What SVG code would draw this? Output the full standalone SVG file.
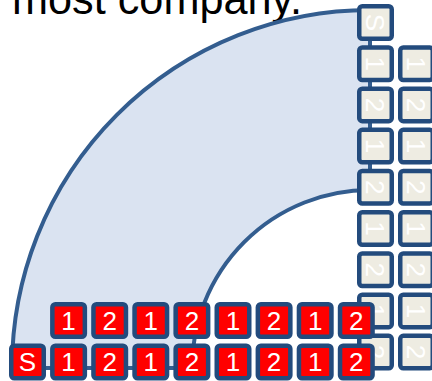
<svg xmlns="http://www.w3.org/2000/svg" width="432" height="381" viewBox="0 0 432 381">
<style>
.r{fill:#FF0000;stroke:#234B7D;stroke-width:4.5}
.b{fill:#EEECE2;stroke:#234B7D;stroke-width:4.5}
.t{font-family:"Liberation Sans",Arial,sans-serif;font-size:26px;fill:#FFFFFF;text-anchor:middle}
.h{font-family:"Liberation Sans",Arial,sans-serif;font-size:44px;fill:#000000}
</style>
<rect width="432" height="381" fill="#FFFFFF"/>
<text class="h" x="12" y="14" textLength="290" lengthAdjust="spacingAndGlyphs">most company.</text>
<g id="connectors">
<path id="arc" d="M 370 10 A 358 358 0 0 0 12 368 L 192 368 A 178 178 0 0 1 370 190 Z" fill="#DAE3F1" stroke="#335D8F" stroke-width="4" stroke-linejoin="round"/>
</g>
<g id="col2">
<g id="c2-1"><rect class="b" x="400.25" y="47.45" width="32.5" height="32.5" rx="3"/><text class="t" transform="rotate(90 416.5 63.7)" x="416.5" y="73">1</text></g>
<g id="c2-2"><rect class="b" x="400.25" y="88.65" width="32.5" height="32.5" rx="3"/><text class="t" transform="rotate(90 416.5 104.9)" x="416.5" y="114.2">2</text></g>
<g id="c2-3"><rect class="b" x="400.25" y="129.85" width="32.5" height="32.5" rx="3"/><text class="t" transform="rotate(90 416.5 146.1)" x="416.5" y="155.4">1</text></g>
<g id="c2-4"><rect class="b" x="400.25" y="171.05" width="32.5" height="32.5" rx="3"/><text class="t" transform="rotate(90 416.5 187.3)" x="416.5" y="196.6">2</text></g>
<g id="c2-5"><rect class="b" x="400.25" y="212.25" width="32.5" height="32.5" rx="3"/><text class="t" transform="rotate(90 416.5 228.5)" x="416.5" y="237.8">1</text></g>
<g id="c2-6"><rect class="b" x="400.25" y="253.45" width="32.5" height="32.5" rx="3"/><text class="t" transform="rotate(90 416.5 269.7)" x="416.5" y="279">2</text></g>
<g id="c2-7"><rect class="b" x="400.25" y="294.65" width="32.5" height="32.5" rx="3"/><text class="t" transform="rotate(90 416.5 310.9)" x="416.5" y="320.2">1</text></g>
<g id="c2-8"><rect class="b" x="400.25" y="335.85" width="32.5" height="32.5" rx="3"/><text class="t" transform="rotate(90 416.5 352.1)" x="416.5" y="361.4">2</text></g>
</g>
<g id="col1">
<g id="c1-0"><rect class="b" x="359.25" y="6.25" width="32.5" height="32.5" rx="3"/><text class="t" transform="rotate(90 375.5 22.5)" x="375.5" y="31.8">S</text></g>
<g id="c1-1"><rect class="b" x="359.25" y="47.45" width="32.5" height="32.5" rx="3"/><text class="t" transform="rotate(90 375.5 63.7)" x="375.5" y="73">1</text></g>
<g id="c1-2"><rect class="b" x="359.25" y="88.65" width="32.5" height="32.5" rx="3"/><text class="t" transform="rotate(90 375.5 104.9)" x="375.5" y="114.2">2</text></g>
<g id="c1-3"><rect class="b" x="359.25" y="129.85" width="32.5" height="32.5" rx="3"/><text class="t" transform="rotate(90 375.5 146.1)" x="375.5" y="155.4">1</text></g>
<g id="c1-4"><rect class="b" x="359.25" y="171.05" width="32.5" height="32.5" rx="3"/><text class="t" transform="rotate(90 375.5 187.3)" x="375.5" y="196.6">2</text></g>
<g id="c1-5"><rect class="b" x="359.25" y="212.25" width="32.5" height="32.5" rx="3"/><text class="t" transform="rotate(90 375.5 228.5)" x="375.5" y="237.8">1</text></g>
<g id="c1-6"><rect class="b" x="359.25" y="253.45" width="32.5" height="32.5" rx="3"/><text class="t" transform="rotate(90 375.5 269.7)" x="375.5" y="279">2</text></g>
<g id="c1-7"><rect class="b" x="359.25" y="294.65" width="32.5" height="32.5" rx="3"/><text class="t" transform="rotate(90 375.5 310.9)" x="375.5" y="320.2">1</text></g>
<g id="c1-8"><rect class="b" x="359.25" y="335.85" width="32.5" height="32.5" rx="3"/><text class="t" transform="rotate(90 375.5 352.1)" x="375.5" y="361.4">2</text></g>
</g>
<g id="row-top">
<g id="t1"><rect class="r" x="52.35" y="304.25" width="32.5" height="32.5" rx="3"/><text class="t" x="68.6" y="329.8">1</text></g>
<g id="t2"><rect class="r" x="93.45" y="304.25" width="32.5" height="32.5" rx="3"/><text class="t" x="109.7" y="329.8">2</text></g>
<g id="t3"><rect class="r" x="134.55" y="304.25" width="32.5" height="32.5" rx="3"/><text class="t" x="150.8" y="329.8">1</text></g>
<g id="t4"><rect class="r" x="175.65" y="304.25" width="32.5" height="32.5" rx="3"/><text class="t" x="191.9" y="329.8">2</text></g>
<g id="t5"><rect class="r" x="216.75" y="304.25" width="32.5" height="32.5" rx="3"/><text class="t" x="233" y="329.8">1</text></g>
<g id="t6"><rect class="r" x="257.85" y="304.25" width="32.5" height="32.5" rx="3"/><text class="t" x="274.1" y="329.8">2</text></g>
<g id="t7"><rect class="r" x="298.95" y="304.25" width="32.5" height="32.5" rx="3"/><text class="t" x="315.2" y="329.8">1</text></g>
<g id="t8"><rect class="r" x="340.05" y="304.25" width="32.5" height="32.5" rx="3"/><text class="t" x="356.3" y="329.8">2</text></g>
</g>
<g id="row-bottom">
<g id="b0"><rect class="r" x="11.25" y="345.75" width="32.5" height="32.5" rx="3"/><text class="t" x="27.5" y="371.3">S</text></g>
<g id="b1"><rect class="r" x="52.35" y="345.75" width="32.5" height="32.5" rx="3"/><text class="t" x="68.6" y="371.3">1</text></g>
<g id="b2"><rect class="r" x="93.45" y="345.75" width="32.5" height="32.5" rx="3"/><text class="t" x="109.7" y="371.3">2</text></g>
<g id="b3"><rect class="r" x="134.55" y="345.75" width="32.5" height="32.5" rx="3"/><text class="t" x="150.8" y="371.3">1</text></g>
<g id="b4"><rect class="r" x="175.65" y="345.75" width="32.5" height="32.5" rx="3"/><text class="t" x="191.9" y="371.3">2</text></g>
<g id="b5"><rect class="r" x="216.75" y="345.75" width="32.5" height="32.5" rx="3"/><text class="t" x="233" y="371.3">1</text></g>
<g id="b6"><rect class="r" x="257.85" y="345.75" width="32.5" height="32.5" rx="3"/><text class="t" x="274.1" y="371.3">2</text></g>
<g id="b7"><rect class="r" x="298.95" y="345.75" width="32.5" height="32.5" rx="3"/><text class="t" x="315.2" y="371.3">1</text></g>
<g id="b8"><rect class="r" x="340.05" y="345.75" width="32.5" height="32.5" rx="3"/><text class="t" x="356.3" y="371.3">2</text></g>
</g>
</svg>
